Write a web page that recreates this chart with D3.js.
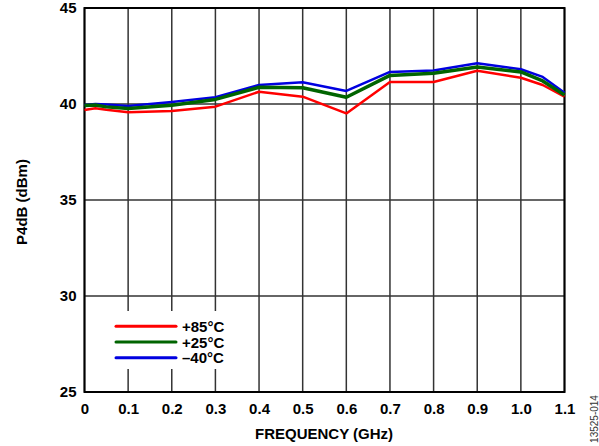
<!DOCTYPE html>
<html>
<head>
<meta charset="utf-8">
<script src="https://cdn.jsdelivr.net/npm/d3@7"></script>
<style>
  body { margin: 0; background: #fff; }
  svg { display: block; font-family: Arial, "Liberation Sans", sans-serif; }
</style>
</head>
<body>
<svg id="chart" width="599" height="446"></svg>
<script>
const freq = [0, 0.025, 0.05, 0.1, 0.2, 0.3, 0.4, 0.5, 0.6, 0.7, 0.8, 0.9, 1.0, 1.05, 1.1];
const p85 = [39.69, 39.78, 39.7, 39.57, 39.64, 39.86, 40.64, 40.38, 39.51, 41.15, 41.15, 41.73, 41.37, 40.99, 40.38];
const p25 = [39.92, 39.95, 39.85, 39.76, 39.93, 40.24, 40.87, 40.85, 40.35, 41.49, 41.6, 41.93, 41.67, 41.2, 40.47];
const m40 = [39.95, 40.0, 39.97, 39.9, 40.1, 40.35, 40.99, 41.13, 40.68, 41.67, 41.75, 42.12, 41.81, 41.41, 40.59];
const xTicks = [0, 0.1, 0.2, 0.3, 0.4, 0.5, 0.6, 0.7, 0.8, 0.9, 1.0, 1.1];
const yTicks = [25, 30, 35, 40, 45];
const seriesNames = ["+85°C", "+25°C", "\u201340°C"];
const seriesColors = ["#ff0000", "#006400", "#0000e0"];

const svg = d3.select("#chart");
const x = d3.scaleLinear().domain([0, 1.1]).range([84.5, 564.5]);
const y = d3.scaleLinear().domain([25, 45]).range([392, 8]);
const FONT = "Arial, 'Liberation Sans', sans-serif";

// grid
svg.append("g")
  .selectAll("line.v")
  .data(xTicks)
  .enter()
  .append("line")
  .attr("x1", (d) => x(d)).attr("x2", (d) => x(d))
  .attr("y1", y(45)).attr("y2", y(25))
  .attr("stroke", "#333").attr("stroke-width", 1.5);

svg.append("g")
  .selectAll("line.h")
  .data(yTicks)
  .enter()
  .append("line")
  .attr("x1", x(0)).attr("x2", x(1.1))
  .attr("y1", (d) => y(d)).attr("y2", (d) => y(d))
  .attr("stroke", "#333").attr("stroke-width", 1.5);

// legend background hides grid
svg.append("rect")
  .attr("x", 96).attr("y", 311).attr("width", 150).attr("height", 58)
  .attr("fill", "#fff");

// frame
svg.append("rect")
  .attr("x", x(0)).attr("y", y(45))
  .attr("width", x(1.1) - x(0)).attr("height", y(25) - y(45))
  .attr("fill", "none").attr("stroke", "#000").attr("stroke-width", 2);

// tick labels
const xAxis = svg.append("g")
  .attr("transform", `translate(0,${y(25)})`)
  .call(d3.axisBottom(x).tickValues(xTicks).tickSize(0).tickPadding(11)
    .tickFormat((d) => (d === 0 ? "0" : d3.format(".1f")(d))));
xAxis.select(".domain").remove();
xAxis.selectAll("text")
  .attr("font-size", 15).attr("font-weight", "bold").attr("fill", "#000")
  .attr("font-family", FONT);

const yAxis = svg.append("g")
  .attr("transform", `translate(${x(0)},0)`)
  .call(d3.axisLeft(y).tickValues(yTicks).tickSize(0).tickPadding(8));
yAxis.select(".domain").remove();
yAxis.selectAll("text")
  .attr("font-size", 15).attr("font-weight", "bold").attr("fill", "#000")
  .attr("font-family", FONT);

// series
const line = d3.line().x((d) => x(d[0])).y((d) => y(d[1]));
const series = [
  { vals: m40, color: seriesColors[2], w: 2.5 },
  { vals: p85, color: seriesColors[0], w: 2.5 },
  { vals: p25, color: seriesColors[1], w: 3.5 },
];
series.forEach((s) => {
  svg.append("path")
    .datum(freq.map((f, i) => [f, s.vals[i]]))
    .attr("fill", "none")
    .attr("stroke", s.color)
    .attr("stroke-width", s.w)
    .attr("stroke-linejoin", "round")
    .attr("d", line);
});

// legend
const legend = svg.append("g");
seriesNames.forEach((name, i) => {
  const ly = 326.3 + i * 15.7;
  legend.append("line")
    .attr("x1", 116).attr("x2", 176).attr("y1", ly).attr("y2", ly)
    .attr("stroke", seriesColors[i]).attr("stroke-width", 3)
    .attr("stroke-linecap", "round");
  legend.append("text")
    .attr("x", 182).attr("y", ly + 5.5)
    .attr("font-size", 15).attr("font-weight", "bold")
    .text(name);
});

// titles
svg.append("text")
  .attr("x", 324).attr("y", 439)
  .attr("text-anchor", "middle")
  .attr("font-size", 15).attr("font-weight", "bold")
  .text("FREQUENCY (GHz)");

svg.append("text")
  .attr("transform", "translate(27,202) rotate(-90)")
  .attr("text-anchor", "middle")
  .attr("font-size", 15).attr("font-weight", "bold")
  .text("P4dB (dBm)");

svg.append("text")
  .attr("transform", "translate(598,419) rotate(-90)")
  .attr("text-anchor", "middle")
  .attr("font-size", 10).attr("fill", "#333")
  .text("13525-014");
</script>
</body>
</html>
